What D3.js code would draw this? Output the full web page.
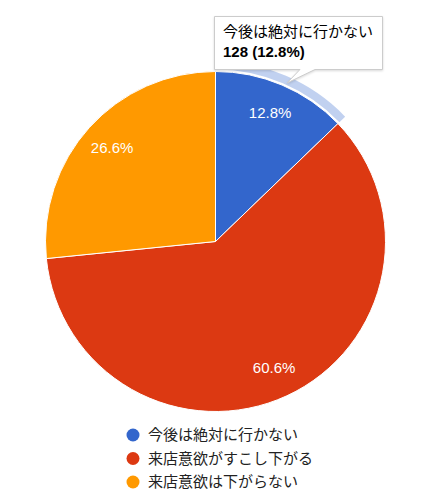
<!DOCTYPE html>
<html>
<head>
<meta charset="utf-8">
<script src="https://cdn.jsdelivr.net/npm/d3@7"></script>
<style>
  body { margin: 0; background: #fff; }
  svg { font-family: Arial, "Liberation Sans", "Noto Sans CJK JP", sans-serif; }
</style>
</head>
<body>
<div id="chart"></div>
<script>
const categories = ["今後は絶対に行かない", "来店意欲がすこし下がる", "来店意欲は下がらない"];
const counts = [128, 606, 266];
const colors = ["#3366cc", "#dc3912", "#ff9900"];

const width = 426, height = 502;
const cx = 215.5, cy = 241.5, radius = 170;

const svg = d3.select("#chart")
  .append("svg")
  .attr("width", width)
  .attr("height", height);

const total = d3.sum(counts);
const data = categories.map((c, i) => ({ name: c, value: counts[i], color: colors[i] }));

const pie = d3.pie().sort(null).value(d => d.value);
const arcs = pie(data);
const arc = d3.arc().innerRadius(0).outerRadius(radius);
const labelArc = d3.arc().innerRadius(radius * 0.82).outerRadius(radius * 0.82);
const ring = d3.arc().innerRadius(radius + 2).outerRadius(radius + 10);

const g = svg.append("g").attr("transform", `translate(${cx},${cy})`);

g.selectAll("path.slice")
  .data(arcs)
  .enter()
  .append("path")
  .attr("class", "slice")
  .attr("d", arc)
  .attr("fill", d => d.data.color)
  .attr("stroke", "#fff")
  .attr("stroke-width", 1);

// hover ring on the first slice
g.append("path")
  .attr("d", ring(arcs[0]))
  .attr("fill", colors[0])
  .attr("fill-opacity", 0.3);

const fmt = v => (v / total * 100).toFixed(1) + "%";

g.selectAll("text.lbl")
  .data(arcs)
  .enter()
  .append("text")
  .attr("class", "lbl")
  .attr("transform", d => `translate(${labelArc.centroid(d)})`)
  .attr("text-anchor", "middle")
  .attr("dy", "0.35em")
  .attr("fill", "#fff")
  .style("font-size", "15px")
  .text(d => fmt(d.data.value));

// legend
const legend = svg.append("g").attr("transform", "translate(133,435)");
const item = legend.selectAll("g")
  .data(data)
  .enter()
  .append("g")
  .attr("transform", (d, i) => `translate(0,${i * 23.5})`);
item.append("circle").attr("r", 6.5).attr("fill", d => d.color);
item.append("text")
  .attr("x", 15)
  .attr("dy", "0.36em")
  .attr("fill", "#222")
  .style("font-size", "15px")
  .text(d => d.name);

// tooltip
const tip = svg.append("g");
tip.append("path")
  .attr("d", "M214.5,16.5 H382.5 V69.5 H315 L287,83 L300,69.5 H214.5 Z")
  .attr("fill", "#fff")
  .attr("stroke", "#ccc")
  .attr("stroke-width", 1)
  .style("filter", "drop-shadow(0 1px 1px rgba(0,0,0,0.15))");
tip.append("text")
  .attr("x", 223).attr("y", 37)
  .attr("fill", "#000")
  .style("font-size", "15px")
  .text(categories[0]);
tip.append("text")
  .attr("x", 223).attr("y", 57)
  .attr("fill", "#000")
  .style("font-size", "15px")
  .style("font-weight", "bold")
  .text(`${counts[0]} (${fmt(counts[0])})`);
</script>
</body>
</html>
